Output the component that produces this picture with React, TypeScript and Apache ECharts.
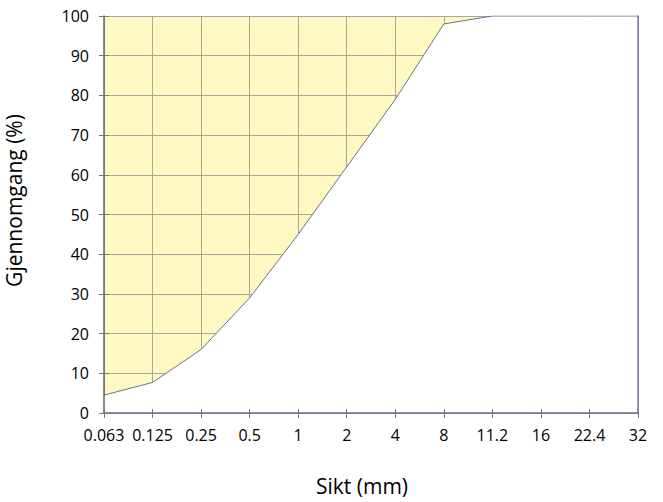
import React, { useEffect, useRef } from "react";
import * as echarts from "echarts";

const sieves = ["0.063", "0.125", "0.25", "0.5", "1", "2", "4", "8", "11.2", "16", "22.4", "32"];
const passing = [4.5, 7.7, 16, 29, 45, 62, 79, 98, 100, 100, 100, 100];
const yTicks = { min: 0, max: 100, interval: 10 };

export default function App() {
  const ref = useRef<HTMLDivElement>(null);
  useEffect(() => {
    const chart = echarts.init(ref.current!, null, { renderer: "svg" });
    const font = "'Open Sans', sans-serif";
    const hidden = {
      axisLine: { show: false },
      axisTick: { show: false },
      axisLabel: { show: false },
      splitLine: { show: false },
    };
    chart.setOption({
      animation: false,
      grid: {
        left: 104,
        right: 25,
        top: 16,
        bottom: 89,
        show: true,
        backgroundColor: "#fff8c3",
        borderWidth: 0,
        outerBoundsMode: "none",
      },
      xAxis: [
        {
          type: "category",
          data: sieves,
          boundaryGap: false,
          z: 5,
          name: "Sikt (mm)",
          nameLocation: "middle",
          nameGap: 62,
          nameTextStyle: { fontFamily: font, fontSize: 21, color: "#000", padding: [0, 18, 0, 0] },
          axisLine: { lineStyle: { color: "#6e6e8a", width: 1.5 } },
          axisTick: { show: true, length: 5, lineStyle: { color: "#777" } },
          axisLabel: { fontFamily: font, fontSize: 16, color: "#000", margin: 14, interval: 0 },
          splitLine: { show: false },
        },
        {
          type: "category",
          data: sieves,
          boundaryGap: false,
          position: "bottom",
          z: 0,
          ...hidden,
          splitLine: { show: true, lineStyle: { color: "#a9a79a", width: 1 } },
        },
        {
          type: "category",
          data: sieves,
          boundaryGap: false,
          position: "bottom",
          z: 5,
          ...hidden,
          axisTick: { show: true, inside: true, length: 4, lineStyle: { color: "#777" } },
        },
      ],
      yAxis: [
        {
          type: "value",
          ...yTicks,
          z: 5,
          name: "Gjennomgang (%)",
          nameLocation: "middle",
          nameGap: 80,
          nameTextStyle: { fontFamily: font, fontSize: 21, color: "#000", padding: [0, 0, 0, 28] },
          axisLine: { show: true, lineStyle: { color: "#666", width: 1.5 } },
          axisTick: { show: true, length: 5, lineStyle: { color: "#777" } },
          axisLabel: { fontFamily: font, fontSize: 16, color: "#000", margin: 15 },
          splitLine: { show: false },
        },
        {
          type: "value",
          ...yTicks,
          position: "left",
          z: 0,
          ...hidden,
          splitLine: { show: true, lineStyle: { color: "#a9a79a", width: 1 } },
        },
        {
          type: "value",
          ...yTicks,
          position: "left",
          z: 5,
          ...hidden,
          axisTick: { show: true, inside: true, length: 5, lineStyle: { color: "#777" } },
        },
        {
          type: "value",
          ...yTicks,
          position: "right",
          z: 5,
          ...hidden,
          axisLine: { show: true, lineStyle: { color: "#7878a6", width: 1.5 } },
        },
      ],
      series: [
        {
          type: "line",
          data: passing,
          xAxisIndex: 0,
          yAxisIndex: 0,
          symbol: "none",
          z: 2,
          lineStyle: { color: "#6a6ea0", width: 1 },
          areaStyle: { color: "#ffffff", opacity: 1, origin: "start" },
        },
      ],
    });
    return () => chart.dispose();
  }, []);
  return (
    <div
      ref={ref}
      style={{ position: "absolute", left: 0, top: 0, width: 663, height: 502 }}
    />
  );
}
